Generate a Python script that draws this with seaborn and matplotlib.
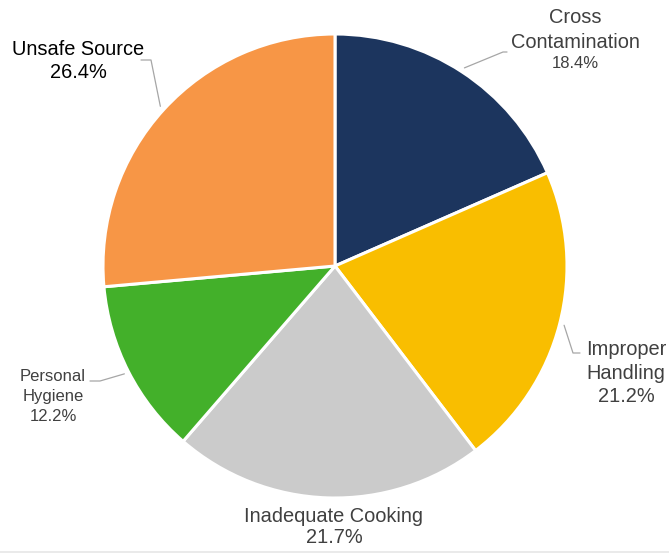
import numpy as np
import matplotlib
matplotlib.use("Agg")
import matplotlib.pyplot as plt
import seaborn as sns

sns.set_theme(style="white")
plt.rcParams["font.family"] = ["Liberation Sans", "DejaVu Sans"]

# Causes of foodborne illness outbreaks (share of cases, %)
categories = ["Cross Contamination", "Improper Handling", "Inadequate Cooking",
              "Personal Hygiene", "Unsafe Source"]
shares = [18.4, 21.2, 21.7, 12.2, 26.4]
colors = ["#1C355E", "#F9BE00", "#CBCBCB", "#43B02A", "#F79646"]

W, H = 669, 553
fig = plt.figure(figsize=(W / 100, H / 100), dpi=100)
fig.patch.set_facecolor("white")

# pie centre and radius in pixels
cx, cy, R = 335, 266, 232
ax = fig.add_axes([(cx - R) / W, (H - cy - R) / H, 2 * R / W, 2 * R / H])

wedges, _ = ax.pie(shares, colors=colors, startangle=90, counterclock=False,
                   radius=1.0, wedgeprops=dict(edgecolor="white", linewidth=2.2))
ax.set_xlim(-1, 1)
ax.set_ylim(-1, 1)
ax.set_aspect("equal")
ax.axis("off")


def to_data(px, py):
    return (px - cx) / R, (cy - py) / R


# label text lines: (text, x, baseline y in px, size in pt)
label_lines = {
    "Cross Contamination": [("Cross", 575, 23, 14.4), ("Contamination", 575, 48, 14.4),
                            ("18.4%", 575, 68, 12)],
    "Improper Handling": [("Improper", 626, 355, 14.4), ("Handling", 626, 379, 14.4),
                          ("21.2%", 626, 402, 14.4)],
    "Inadequate Cooking": [("Inadequate Cooking", 334, 522, 14.4), ("21.7%", 334, 543, 14.4)],
    "Personal Hygiene": [("Personal", 53, 381, 12), ("Hygiene", 53, 401, 12),
                         ("12.2%", 53, 421, 12)],
    "Unsafe Source": [("Unsafe Source", 78, 55, 14.4), ("26.4%", 78, 78, 14.4)],
}
text_colors = {"Unsafe Source": "#000000"}

# leader line bends and ends in px (None = no leader)
leaders = {
    "Cross Contamination": [(503, 52), (507, 52)],
    "Improper Handling": [(573, 353), (580, 353)],
    "Inadequate Cooking": None,
    "Personal Hygiene": [(100, 381), (90, 381)],
    "Unsafe Source": [(151, 60), (141, 60)],
}

for cat, w in zip(categories, wedges):
    col = text_colors.get(cat, "#404040")
    for txt, px, py, size in label_lines[cat]:
        x, y = to_data(px, py)
        ax.text(x, y, txt, ha="center", va="baseline", fontsize=size, color=col,
                clip_on=False)
    pts = leaders[cat]
    if pts:
        ang = np.deg2rad((w.theta1 + w.theta2) / 2)
        xs = [1.02 * np.cos(ang)]
        ys = [1.02 * np.sin(ang)]
        for px, py in pts:
            x, y = to_data(px, py)
            xs.append(x)
            ys.append(y)
        ax.plot(xs, ys, color="#A6A6A6", lw=0.9, clip_on=False)

# thin rule along the bottom edge
fig.add_artist(plt.Line2D([0, 1], [1.5 / H, 1.5 / H], color="#E6E6E6", lw=1.2,
                          transform=fig.transFigure))

fig.savefig("out.png", dpi=100, facecolor="white")
